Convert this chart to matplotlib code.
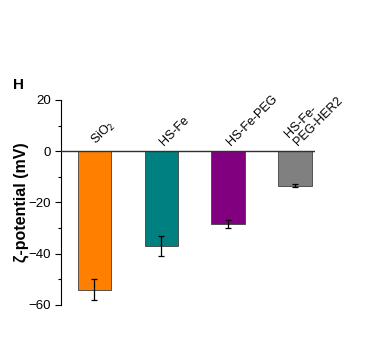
import matplotlib
matplotlib.use("Agg")
import matplotlib.pyplot as plt
from matplotlib.ticker import MultipleLocator

categories = ["SiO$_2$", "HS-Fe", "HS-Fe-PEG", "HS-Fe-\nPEG-HER2"]
values = [-54.0, -37.0, -28.5, -13.4]
errors = [4.1, 4.0, 1.5, 0.5]
colors = ["#FF8000", "#008080", "#800080", "#808080"]
yticks = [20, 0, -20, -40, -60]

plt.rcParams['font.family'] = ['Liberation Sans', 'DejaVu Sans']

fig = plt.figure(figsize=(3.73, 3.57), dpi=100)
ax = fig.add_axes([0.1635, 0.1457, 0.681, 0.5742])

x = list(range(len(categories)))
ax.bar(x, values, width=0.5, color=colors, edgecolor="#404040", linewidth=0.6,
       yerr=errors, error_kw=dict(ecolor="black", elinewidth=0.9, capsize=2.5, capthick=0.9))
ax.axhline(0, color="#303030", linewidth=1.0, zorder=3)

ax.set_xlim(-0.5, 3.3)
ax.set_ylim(-60, 20)
ax.set_yticks(yticks)
ax.set_yticklabels(["20", "0", "\u221220", "\u221240", "\u221260"], fontsize=9.5)
ax.yaxis.set_minor_locator(MultipleLocator(10))
ax.tick_params(axis='y', which='major', direction='out', length=4, width=0.8)
ax.tick_params(axis='y', which='minor', direction='out', length=2.5, width=0.8)
ax.set_xticks([])
for s in ["top", "right", "bottom"]:
    ax.spines[s].set_visible(False)
ax.spines["left"].set_linewidth(0.8)

ax.set_ylabel("\u03b6-potential (mV)", fontsize=11.5, fontweight="bold", labelpad=-1)

for xi, lab in zip(x, categories):
    ax.text(xi + 0.07, 1.2, lab, rotation=45, rotation_mode="anchor",
            ha="left", va="bottom", fontsize=9, linespacing=0.95)

fig.text(0.035, 0.75, "H", fontsize=11, fontweight="bold")

fig.savefig("out.png", dpi=100)
